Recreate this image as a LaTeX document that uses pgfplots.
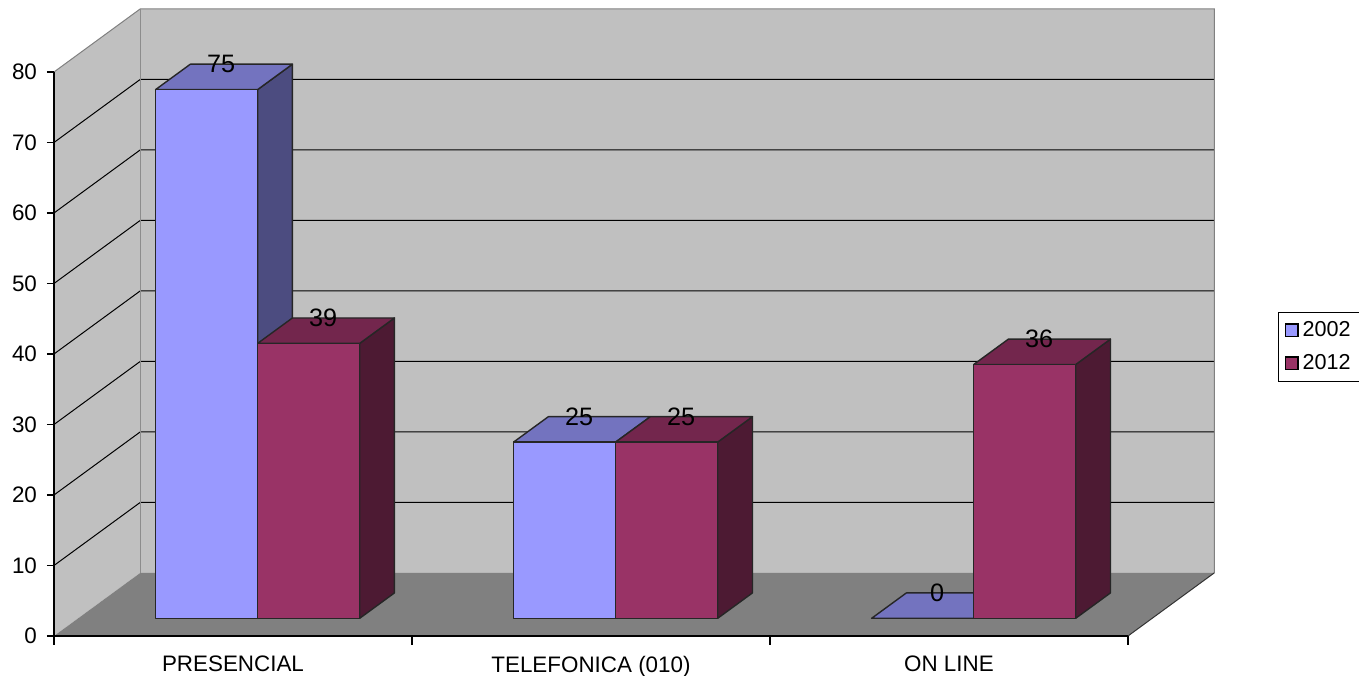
\documentclass[border=0pt]{standalone}
\usepackage{pgfplots}
\pgfplotsset{compat=1.18}
\usepackage{fontspec}
\setmainfont{Liberation Sans}

% face colours of the two series
\definecolor{frontA}{HTML}{9999FF}
\definecolor{topA}{HTML}{7373BF}
\definecolor{sideA}{HTML}{4C4C80}
\definecolor{frontB}{HTML}{993366}
\definecolor{topB}{HTML}{73264D}
\definecolor{sideB}{HTML}{4D1A33}
\definecolor{wall}{HTML}{C0C0C0}
\definecolor{floorc}{HTML}{808080}

% oblique depth of the bars (in axis units)
\def\fx{0.069}  % front plane of the bars, x shift
\def\fy{2.51}   % front plane of the bars, y shift
\def\bx{0.097}  % bar depth, x
\def\by{3.6}    % bar depth, y
\def\bw{0.285}  % bar width

\pgfplotsset{
  baredge/.style={draw=black!85, line width=0.7pt, line join=round},
}
\tikzset{
  vlabel/.style={font=\fontsize{12.6}{14}\selectfont, inner sep=0pt},
}

% #1 category, #2 series slot (0 left, 1 right), #3 value,
% #4 front colour, #5 top colour, #6 side colour
\newcommand{\threedbar}[6]{%
  \pgfmathsetmacro\bL{#1+\fx-\bw*(1-#2)}%
  \pgfmathsetmacro\bR{\bL+\bw}%
  \pgfmathsetmacro\bLb{\bL+\bx}%
  \pgfmathsetmacro\bRb{\bR+\bx}%
  \pgfmathsetmacro\yT{\fy+#3}%
  \pgfmathsetmacro\yBb{\fy+\by}%
  \pgfmathsetmacro\yTb{\yT+\by}%
  \pgfmathsetmacro\lx{(\bL+\bR+\bx)/2-0.008}%
  \edef\barfaces{%
    \noexpand\addplot[forget plot, baredge, fill=#6] coordinates
      {(\bR,\fy) (\bRb,\yBb) (\bRb,\yTb) (\bR,\yT)} -- cycle;
    \noexpand\addplot[forget plot, baredge, fill=#5] coordinates
      {(\bL,\yT) (\bR,\yT) (\bRb,\yTb) (\bLb,\yTb)} -- cycle;
    \noexpand\addplot[forget plot, baredge, fill=#4] coordinates
      {(\bL,\fy) (\bR,\fy) (\bR,\yT) (\bL,\yT)} -- cycle;
    \noexpand\node[vlabel] at (axis cs:\lx,\yTb) {#3};
  }%
  \barfaces
}

\begin{document}
\begin{tikzpicture}
\begin{axis}[
  x=179pt, y=3.525pt,
  xmin=-0.5, xmax=2.5, ymin=0, ymax=80,
  clip=false, axis on top,
  axis lines*=left,
  axis line style={black, line width=0.6pt},
  tick align=outside,
  tick style={black, line width=0.6pt},
  ytick={0,10,...,80},
  major tick length=3.5pt,
  xtick={0,1,2},
  xticklabels={PRESENCIAL, TELEFONICA (010), ON LINE},
  major x tick style={draw=none},
  minor xtick={-0.5,0.5,1.5,2.5},
  minor tick length=4.5pt,
  ticklabel style={font=\fontsize{11.2}{13}\selectfont},
  yticklabel style={xshift=-1.5pt},
  xticklabel style={yshift=-3pt},
  /pgf/number format/assume math mode=true,
  legend style={at={(1.1785,0.5125)}, anchor=center, draw=black,
    line width=0.6pt, font=\fontsize{10.8}{12}\selectfont,
    inner xsep=3pt, inner ysep=2.3pt, row sep=3.5pt},
  legend cell align=left,
  legend image code/.code={\draw[#1] (0pt,-3.2pt) rectangle (6.4pt,3.2pt);},
]
% walls and floor
\addplot[forget plot, fill=wall, draw=none] coordinates
  {(-0.259,8.95) (2.741,8.95) (2.741,88.95) (-0.259,88.95)} -- cycle;
\addplot[forget plot, fill=wall, draw=none] coordinates
  {(-0.5,0) (-0.259,8.95) (-0.259,88.95) (-0.5,80)} -- cycle;
\addplot[forget plot, fill=floorc, draw=none] coordinates
  {(-0.5,0) (2.5,0) (2.741,8.95) (-0.259,8.95)} -- cycle;
% grid lines on the side and back walls
\addplot[forget plot, black, line width=0.5pt] coordinates {(-0.5,10) (-0.259,18.95) (2.741,18.95)};
\addplot[forget plot, black, line width=0.5pt] coordinates {(-0.5,20) (-0.259,28.95) (2.741,28.95)};
\addplot[forget plot, black, line width=0.5pt] coordinates {(-0.5,30) (-0.259,38.95) (2.741,38.95)};
\addplot[forget plot, black, line width=0.5pt] coordinates {(-0.5,40) (-0.259,48.95) (2.741,48.95)};
\addplot[forget plot, black, line width=0.5pt] coordinates {(-0.5,50) (-0.259,58.95) (2.741,58.95)};
\addplot[forget plot, black, line width=0.5pt] coordinates {(-0.5,60) (-0.259,68.95) (2.741,68.95)};
\addplot[forget plot, black, line width=0.5pt] coordinates {(-0.5,70) (-0.259,78.95) (2.741,78.95)};
% wall edges
\addplot[forget plot, gray, line width=0.5pt] coordinates
  {(-0.5,80) (-0.259,88.95) (2.741,88.95) (2.741,8.95)};
\addplot[forget plot, black!80, line width=0.5pt] coordinates
  {(2.741,8.95) (2.5,0)};
\addplot[forget plot, black!45, line width=0.5pt] coordinates
  {(-0.259,8.95) (-0.259,88.95)};

% bars: 2002 (left) and 2012 (right) in each category
\threedbar{0}{0}{75}{frontA}{topA}{sideA}
\threedbar{0}{1}{39}{frontB}{topB}{sideB}
\threedbar{1}{0}{25}{frontA}{topA}{sideA}
\threedbar{1}{1}{25}{frontB}{topB}{sideB}
\threedbar{2}{0}{0}{frontA}{topA}{sideA}
\threedbar{2}{1}{36}{frontB}{topB}{sideB}

\addlegendimage{fill=frontA, draw=black, line width=0.6pt}
\addlegendentry{2002}
\addlegendimage{fill=frontB, draw=black, line width=0.6pt}
\addlegendentry{2012}

\coordinate (bbll) at (axis cs:-0.6508,-5.674);
\coordinate (bbur) at (axis cs:3.1453,90.213);
\end{axis}
\pgfresetboundingbox
\path (bbll) rectangle (bbur);
\end{tikzpicture}
\end{document}
